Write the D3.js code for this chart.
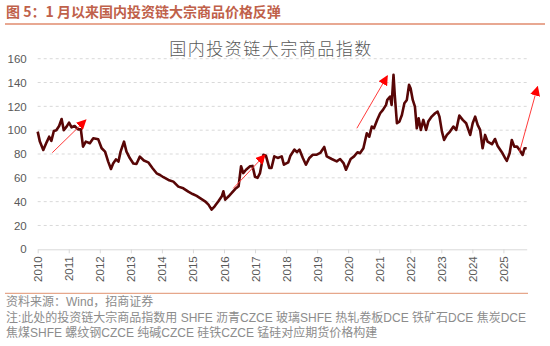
<!DOCTYPE html>
<html>
<head>
<meta charset="utf-8">
<script src="https://cdn.jsdelivr.net/npm/d3@7/dist/d3.min.js"></script>
<style>
  body { margin: 0; background: #fff; }
  svg { display: block; font-family: "Liberation Sans", Arial, "Noto Sans CJK SC", sans-serif; }
</style>
</head>
<body>
<svg id="chart" width="550" height="346"></svg>
<script>
// index readings (decimal year, level)
const years = [
  2010.00, 2010.07, 2010.18, 2010.29, 2010.37, 2010.44, 2010.52, 2010.60, 2010.69, 2010.77,
  2010.84, 2010.93, 2011.01, 2011.09, 2011.19, 2011.30, 2011.39, 2011.46, 2011.55, 2011.68,
  2011.79, 2011.95, 2012.06, 2012.17, 2012.27, 2012.36, 2012.43, 2012.52, 2012.60, 2012.67,
  2012.78, 2012.86, 2012.97, 2013.08, 2013.18, 2013.29, 2013.42, 2013.56, 2013.70, 2013.83,
  2013.94, 2014.05, 2014.21, 2014.37, 2014.53, 2014.69, 2014.85, 2014.99, 2015.12, 2015.23,
  2015.39, 2015.50, 2015.60, 2015.70, 2015.82, 2015.93, 2015.98, 2016.04, 2016.15, 2016.25,
  2016.36, 2016.47, 2016.55, 2016.62, 2016.71, 2016.84, 2016.92, 2017.00, 2017.08, 2017.16,
  2017.27, 2017.35, 2017.46, 2017.53, 2017.62, 2017.73, 2017.86, 2017.93, 2018.07, 2018.14,
  2018.27, 2018.35, 2018.43, 2018.54, 2018.64, 2018.75, 2018.86, 2018.99, 2019.10, 2019.23,
  2019.31, 2019.47, 2019.63, 2019.74, 2019.85, 2019.93, 2020.00, 2020.08, 2020.19, 2020.30,
  2020.38, 2020.49, 2020.60, 2020.68, 2020.76, 2020.83, 2020.94, 2021.03, 2021.12, 2021.22,
  2021.26, 2021.35, 2021.40, 2021.46, 2021.50, 2021.57, 2021.65, 2021.73, 2021.81, 2021.89,
  2021.96, 2022.01, 2022.08, 2022.15, 2022.21, 2022.27, 2022.34, 2022.42, 2022.51, 2022.58,
  2022.69, 2022.80, 2022.88, 2022.94, 2023.02, 2023.09, 2023.18, 2023.28, 2023.39, 2023.48,
  2023.58, 2023.69, 2023.80, 2023.93, 2024.01, 2024.09, 2024.17, 2024.25, 2024.33, 2024.41,
  2024.49, 2024.63, 2024.73, 2024.81, 2024.95, 2025.06, 2025.11, 2025.20, 2025.27, 2025.35,
  2025.44, 2025.52, 2025.62, 2025.68, 2025.75
];
const index = [
  98.8, 90.4, 83.4, 90.0, 94.5, 91.0, 99.3, 100.0, 103.5, 109.4,
  100.0, 103.0, 106.3, 102.4, 103.5, 100.7, 100.7, 86.2, 90.4, 89.0,
  93.2, 92.3, 84.8, 82.0, 73.6, 67.4, 72.0, 75.5, 73.6, 82.0,
  90.4, 82.0, 76.4, 72.0, 71.6, 77.8, 74.5, 73.0, 68.0, 63.8,
  62.4, 60.5, 58.2, 56.8, 52.6, 51.2, 48.4, 46.4, 44.8, 43.0,
  40.3, 37.5, 33.3, 36.1, 40.3, 44.5, 48.7, 41.7, 44.5, 47.3,
  50.6, 52.9, 69.7, 64.0, 66.8, 69.7, 70.0, 60.8, 60.0, 64.0,
  79.4, 78.6, 68.3, 68.3, 78.0, 76.7, 78.0, 71.0, 73.0, 78.6,
  83.7, 81.5, 83.7, 76.7, 71.0, 76.7, 79.4, 79.4, 80.9, 85.9,
  78.0, 75.8, 73.8, 75.8, 72.4, 66.8, 71.0, 75.8, 78.0, 81.5,
  80.6, 84.8, 97.4, 94.6, 103.0, 101.6, 108.9, 114.2, 117.0, 121.2,
  125.4, 128.2, 121.2, 146.4, 129.6, 105.8, 107.2, 112.8, 122.6, 125.4,
  138.0, 135.2, 125.4, 119.8, 101.6, 110.0, 100.2, 108.6, 100.2, 107.2,
  111.4, 114.2, 115.6, 111.4, 98.8, 91.8, 96.0, 98.8, 103.0, 100.2,
  112.2, 108.6, 105.8, 96.0, 105.8, 111.4, 104.4, 100.2, 84.8, 96.0,
  90.4, 88.2, 92.6, 87.0, 81.5, 76.4, 74.2, 80.6, 91.8, 86.2,
  86.2, 83.4, 79.2, 84.8, 84.8
];

const yTicks = [0, 20, 40, 60, 80, 100, 120, 140, 160];
const xTicks = d3.range(2010, 2026);

// red trend arrows: [fromYear, fromValue, toYear, toValue]
const arrows = [
  [2010.47, 81.1, 2011.55, 108.5],
  [2016.30, 51.2, 2017.32, 79.2],
  [2020.28, 101.6, 2021.26, 145.5],
  [2025.52, 81.9, 2026.10, 136.5]
];

const svg = d3.select("#chart");

const x = d3.scaleLinear().domain([2010, 2025.75]).range([37.7, 526.7]);
const y = d3.scaleLinear().domain([0, 160]).range([249.3, 58.7]);

// header
svg.append("text")
  .attr("x", 6).attr("y", 17)
  .attr("fill", "#c0614a")
  .style("font-size", "14px")
  .style("font-weight", "bold")
  .style("font-family", "'Noto Sans CJK SC', sans-serif")
  .text("图 5：1 月以来国内投资链大宗商品价格反弹");

svg.append("line")
  .attr("x1", 5).attr("x2", 545)
  .attr("y1", 24).attr("y2", 24)
  .attr("stroke", "#e8a892").attr("stroke-width", 2);

// chart title
svg.append("text")
  .attr("x", 271).attr("y", 55)
  .attr("text-anchor", "middle")
  .attr("fill", "#595959")
  .style("font-size", "17px")
  .style("letter-spacing", "1.5px")
  .style("font-family", "'Noto Sans CJK SC', sans-serif")
  .style("font-weight", 300)
  .text("国内投资链大宗商品指数");

// grid
svg.append("g").selectAll("line")
  .data(yTicks.filter(d => d > 0))
  .enter().append("line")
  .attr("x1", x.range()[0]).attr("x2", x.range()[1])
  .attr("y1", d => y(d)).attr("y2", d => y(d))
  .attr("stroke", "#d9d9d9")
  .attr("stroke-dasharray", "3,3");

// y axis labels
const yAxis = svg.append("g")
  .attr("transform", `translate(${x.range()[0]},0)`)
  .call(d3.axisLeft(y).tickValues(yTicks).tickSize(0).tickPadding(11));
yAxis.select(".domain").remove();
yAxis.selectAll("text")
  .attr("fill", "#595959")
  .style("font-size", "11.5px")
  .style("font-family", "'Liberation Sans', Arial, sans-serif");

// x axis
const xAxis = svg.append("g")
  .attr("transform", `translate(0,${y(0)})`)
  .call(d3.axisBottom(x).tickValues(xTicks).tickFormat(d3.format("d")).tickSize(4).tickSizeOuter(0));
xAxis.select(".domain").attr("stroke", "#d9d9d9");
xAxis.selectAll(".tick line").attr("stroke", "#d9d9d9");
xAxis.selectAll("text")
  .attr("fill", "#595959")
  .style("font-size", "11.5px")
  .style("font-family", "'Liberation Sans', Arial, sans-serif")
  .attr("transform", "rotate(-90)")
  .attr("text-anchor", "end")
  .attr("x", -7)
  .attr("y", 0)
  .attr("dy", "0.35em");

// index line
const series = years.map((t, i) => ({ t: t, v: index[i] }));
svg.append("path")
  .datum(series)
  .attr("fill", "none")
  .attr("stroke", "#580606")
  .attr("stroke-width", 2.6)
  .attr("stroke-linejoin", "round")
  .attr("d", d3.line().x(d => x(d.t)).y(d => y(d.v)));

// arrows
const defs = svg.append("defs");
defs.append("marker")
  .attr("id", "head")
  .attr("viewBox", "0 0 10 10")
  .attr("refX", 9).attr("refY", 5)
  .attr("markerWidth", 10).attr("markerHeight", 10)
  .attr("markerUnits", "userSpaceOnUse")
  .attr("orient", "auto")
  .append("path")
  .attr("d", "M0,0 L10,5 L0,10 Z")
  .attr("fill", "#ff0000");

svg.append("g").selectAll("line")
  .data(arrows)
  .enter().append("line")
  .attr("x1", d => x(d[0])).attr("y1", d => y(d[1]))
  .attr("x2", d => x(d[2])).attr("y2", d => y(d[3]))
  .attr("stroke", "#ff3b3b")
  .attr("stroke-width", 1)
  .attr("marker-end", "url(#head)");

// footer
svg.append("line")
  .attr("x1", 5).attr("x2", 528)
  .attr("y1", 293.3).attr("y2", 293.3)
  .attr("stroke", "#e0916f").attr("stroke-width", 1);

const notes = [
  "资料来源：Wind，招商证券",
  "注:此处的投资链大宗商品指数用 SHFE 沥青CZCE 玻璃SHFE 热轧卷板DCE 铁矿石DCE 焦炭DCE",
  "焦煤SHFE 螺纹钢CZCE 纯碱CZCE 硅铁CZCE 锰硅对应期货价格构建"
];
svg.append("g").selectAll("text")
  .data(notes)
  .enter().append("text")
  .attr("x", 6)
  .attr("y", (d, i) => 306 + i * 15.5)
  .attr("fill", "#8c8c8c")
  .style("font-size", "12px")
  .style("font-family", "'Liberation Sans', Arial, 'Noto Sans CJK SC', sans-serif")
  .text(d => d);
</script>
</body>
</html>
